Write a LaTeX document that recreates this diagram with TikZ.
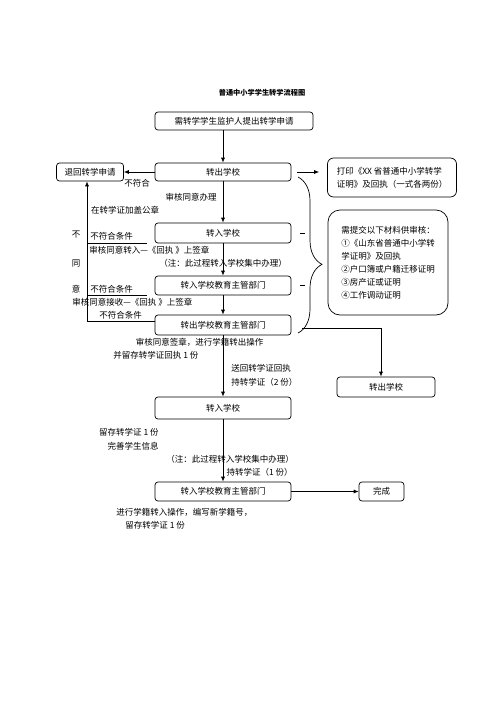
\documentclass[tikz,border=0pt]{standalone}
\usepackage{fontspec}
\setmainfont{Noto Sans CJK SC}
\usetikzlibrary{arrows.meta, decorations.pathreplacing}
\tikzset{
  box/.style={draw, rounded corners=3pt, minimum width=136pt, minimum height=20pt,
              inner sep=1pt, font=\fontsize{8.5}{11}\selectfont},
  lbl/.style={inner sep=0pt, font=\fontsize{8.5}{11}\selectfont},
  arr/.style={-{Latex[length=5pt, width=4pt]}},
}

\begin{document}
\begin{tikzpicture}[x=1pt, y=-1pt, line width=0.7pt]

  \useasboundingbox (0, 0) rectangle (500, 707);

  \node[lbl, font=\fontsize{7.2}{9}\selectfont\bfseries] (title) at (262, 93) {普通中小学学生转学流程图};

  % main column
  \node[box, minimum width=158pt, minimum height=18pt] (apply) at (234, 121) {需转学学生监护人提出转学申请};
  \node[box, minimum height=18pt] (out) at (223, 172) {转出学校};
  \node[box, minimum width=67pt, minimum height=18pt] (back) at (90, 172) {退回转学申请};
  \node[box, minimum width=129pt, minimum height=39pt, align=left, rounded corners=6pt,
        font=\fontsize{8.5}{13}\selectfont] (print) at (392, 177.5)
        {打印《XX 省普通中小学转学\\证明》及回执（一式各两份）};
  \node[box] (in1) at (223, 233) {转入学校};
  \node[box, minimum height=19pt] (inedu) at (223, 285.5) {转入学校教育主管部门};
  \node[box] (outedu) at (223, 325) {转出学校教育主管部门};
  \node[box, minimum width=98pt] (out2) at (386, 387) {转出学校};
  \node[box, minimum height=22pt] (in2) at (223, 408) {转入学校};
  \node[box, minimum height=19pt] (inedu2) at (223, 491.5) {转入学校教育主管部门};
  \node[box, minimum width=45pt, minimum height=19pt] (done) at (381.5, 491.5) {完成};
  \node[box, minimum width=120pt, minimum height=105pt, align=left, rounded corners=12pt,
        font=\fontsize{8.5}{13}\selectfont] (mat) at (388, 262.5)
        {需提交以下材料供审核：\\①《山东省普通中小学转\\学证明》及回执\\②户口簿或户籍迁移证明\\③房产证或证明\\④工作调动证明};

  % labels
  \node[lbl] (nofit) at (137, 183) {不符合};
  \node[lbl] (agree) at (191, 197) {审核同意办理};
  \node[lbl] (seal) at (125, 210) {在转学证加盖公章};
  \node[lbl] (bu) at (76, 235) {不};
  \node[lbl] (tong) at (76, 263) {同};
  \node[lbl] (yi) at (76, 289) {意};
  \node[lbl, anchor=west] (nofitA) at (90, 236) {不符合条件};
  \node[lbl, anchor=west] (signA) at (89, 250) {审核同意转入—《回执 》上签章};
  \node[lbl] (noteA) at (223, 263) {（注：此过程转入学校集中办理）};
  \node[lbl, anchor=west] (nofitB) at (90, 289) {不符合条件};
  \node[lbl, anchor=west] (signB) at (72, 302) {审核同意接收—《回执 》上签章};
  \node[lbl, anchor=west] (nofitC) at (99, 315) {不符合条件};
  \node[lbl] (signC) at (199.5, 342) {审核同意签章，进行学籍转出操作};
  \node[lbl, anchor=west] (keepA) at (113, 355) {并留存转学证回执 1 份};
  \node[lbl, anchor=west] (sendA) at (231, 368) {送回转学证回执};
  \node[lbl, anchor=west] (holdA) at (231, 382) {持转学证（2 份）};
  \node[lbl, anchor=east] (keepB) at (159, 432) {留存转学证 1 份};
  \node[lbl, anchor=east] (infoB) at (159, 446) {完善学生信息};
  \node[lbl] (noteB) at (230, 459) {（注：此过程转入学校集中办理）};
  \node[lbl, anchor=east] (holdB) at (293, 472) {持转学证（1 份）};
  \node[lbl, anchor=west] (regC) at (116, 512) {进行学籍转入操作，编写新学籍号，};
  \node[lbl, anchor=west] (keepC) at (125, 525) {留存转学证 1 份};

  % connectors
  \draw[arr] (out.north |- apply.south) -- (out.north);
  \draw[arr] (out.west) -- (back.east);
  \draw[arr] ([xshift=6pt]out.east) -- ([xshift=-8pt]print.west |- out.east);
  \draw[arr] (out) -- (in1);
  \draw[arr] (in1) -- (inedu);
  \draw[arr] (inedu) -- (outedu);
  \draw[arr] (outedu) -- (in2);
  \draw[arr] (in2) -- (inedu2);
  \draw[arr] (inedu2) -- (done);

  % brace and right branch
  \coordinate (bt) at (298, 177);
  \coordinate (bb) at (298, 333);
  \draw[decorate, decoration={brace, amplitude=24pt, aspect=0.56}] (bt) -- (bb);
  \foreach \b in {in1, inedu}
    \draw ([xshift=9pt]\b.east) -- ++(5pt, 0);
  \coordinate (rb) at (302, 328);
  \coordinate (rc) at (381, 328);
  \draw[arr] (rb) -- (rc) -- (rc |- out2.north);

  % way back
  \coordinate (fb) at (87, 321);
  \coordinate (f1) at (147, 243);
  \coordinate (f2) at (147, 295);
  \draw[arr] (outedu.west |- fb) -- (fb) -- (fb |- back.south);
  \draw (f1) -- (f1 -| fb);
  \draw (f2) -- (f2 -| fb);

\end{tikzpicture}
\end{document}
